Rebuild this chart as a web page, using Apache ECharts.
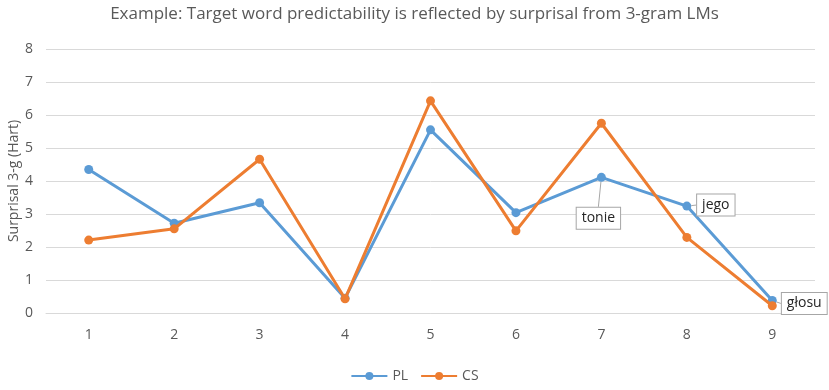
<!DOCTYPE html>
<html>
<head>
<meta charset="utf-8">
<script src="https://cdn.jsdelivr.net/npm/echarts@6/dist/echarts.min.js"></script>
<style>
  html, body { margin: 0; padding: 0; background: #fff; }
  #chart { width: 829px; height: 390px; }
</style>
</head>
<body>
<div id="chart"></div>
<script>
const categories = ['1', '2', '3', '4', '5', '6', '7', '8', '9']
const plValues = [4.35, 2.72, 3.34, 0.45, 5.55, 3.04, 4.11, 3.24, 0.38]
const csValues = [2.21, 2.55, 4.66, 0.43, 6.43, 2.49, 5.75, 2.29, 0.22]
// callout words on the PL line
const plCallouts = { 6: 'tonie', 7: 'jego', 8: 'głosu' }

const font = 'Open Sans'
const chart = echarts.init(document.getElementById('chart'))

const calloutLabel = {
  show: true,
  position: 'inside',
  formatter: (p) => plCallouts[p.dataIndex] || '',
  color: '#262626',
  fontFamily: font,
  fontSize: 14,
  backgroundColor: '#fff',
  borderColor: '#a6a6a6',
  borderWidth: 1,
  padding: [3, 5, 4, 5],
}

const plData = plValues.map((v, i) => {
  if (plCallouts[i]) return { value: v, label: calloutLabel }
  return { value: v }
})

const option = {
  animation: false,
  title: {
    text: 'Example: Target word predictability is reflected by surprisal from 3-gram LMs',
    left: 'center',
    top: 1,
    textStyle: {
      fontFamily: font,
      fontSize: 17,
      fontWeight: 'normal',
      color: '#595959',
    },
  },
  legend: {
    bottom: 2,
    left: 'center',
    itemWidth: 36,
    itemHeight: 10,
    itemGap: 12,
    textStyle: { fontFamily: font, fontSize: 14, color: '#595959' },
    data: ['PL', 'CS'],
  },
  grid: {
    left: 46,
    right: 14,
    top: 49,
    bottom: 77,
    outerBoundsMode: 'none',
  },
  xAxis: {
    type: 'category',
    data: categories,
    boundaryGap: true,
    axisLine: { lineStyle: { color: '#d9d9d9', width: 1 } },
    axisTick: { show: false },
    axisLabel: { color: '#595959', fontFamily: font, fontSize: 14, margin: 15 },
  },
  yAxis: {
    type: 'value',
    min: 0,
    max: 8,
    interval: 1,
    name: 'Surprisal 3-g (Hart)',
    nameLocation: 'middle',
    nameGap: 25,
    nameMoveOverlap: false,
    nameTextStyle: { color: '#595959', fontFamily: font, fontSize: 14 },
    axisLine: { show: false },
    axisTick: { show: false },
    splitLine: { lineStyle: { color: '#d9d9d9', width: 1 } },
    axisLabel: { color: '#595959', fontFamily: font, fontSize: 14, margin: 13 },
  },
  series: [
    {
      name: 'PL',
      type: 'line',
      data: plData,
      symbol: 'circle',
      symbolSize: 9,
      lineStyle: { width: 3, color: '#5b9bd5' },
      itemStyle: { color: '#5b9bd5' },
      labelLine: { show: true, lineStyle: { color: '#a6a6a6', width: 1 } },
      labelLayout: (p) => {
        if (p.dataIndex === 6) return { dx: -3, dy: 41 }
        if (p.dataIndex === 7) return { dx: 29, dy: -1 }
        if (p.dataIndex === 8) return { dx: 32, dy: 3 }
        return {}
      },
      z: 2,
    },
    {
      name: 'CS',
      type: 'line',
      data: csValues,
      symbol: 'circle',
      symbolSize: 9,
      lineStyle: { width: 3, color: '#ed7d31' },
      itemStyle: { color: '#ed7d31' },
      z: 3,
    },
  ],
}

chart.setOption(option)
</script>
</body>
</html>
